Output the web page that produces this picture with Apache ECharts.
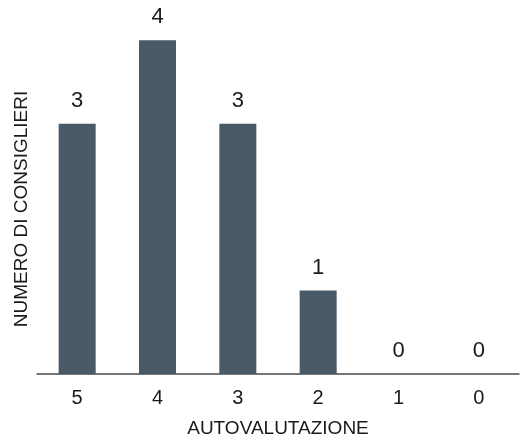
<!DOCTYPE html>
<html>
<head>
<meta charset="utf-8">
<script src="https://cdn.jsdelivr.net/npm/echarts@6/dist/echarts.min.js"></script>
<style>
  html, body { margin: 0; padding: 0; background: #fff; }
  #chart { width: 523px; height: 443px; }
</style>
</head>
<body>
<div id="chart"></div>
<script>
// Self-assessment scores and how many board members gave each one
const categories = ['5', '4', '3', '2', '1', '0'];
const counts = [3, 4, 3, 1, 0, 0];
const xTitle = 'AUTOVALUTAZIONE';
const yTitle = 'NUMERO DI CONSIGLIERI';

const font = 'Liberation Sans, Arial, sans-serif';
const chart = echarts.init(document.getElementById('chart'));

chart.setOption({
  animation: false,
  grid: { left: 37, right: 4, top: 7, bottom: 64 },
  xAxis: {
    type: 'category',
    data: categories,
    name: xTitle,
    nameLocation: 'middle',
    nameGap: 45,
    nameTextStyle: { fontFamily: font, fontSize: 19, color: '#1a1a1a' },
    axisLine: { lineStyle: { color: '#4a4a4a', width: 1.5 } },
    axisTick: { show: false },
    axisLabel: { fontFamily: font, fontSize: 20, color: '#1a1a1a', margin: 14 }
  },
  yAxis: {
    type: 'value',
    min: 0,
    max: 4.4,
    name: yTitle,
    nameLocation: 'middle',
    nameRotate: 90,
    nameGap: 6,
    nameTextStyle: { fontFamily: font, fontSize: 19, color: '#1a1a1a', padding: [0, 0, 0, -37] },
    axisLine: { show: false },
    axisTick: { show: false },
    axisLabel: { show: false },
    splitLine: { show: false }
  },
  series: [{
    type: 'bar',
    data: counts,
    barWidth: 37,
    itemStyle: { color: '#485967' },
    label: {
      show: true,
      position: 'top',
      distance: 12,
      fontFamily: font,
      fontSize: 22,
      color: '#1a1a1a'
    }
  }]
});
</script>
</body>
</html>
